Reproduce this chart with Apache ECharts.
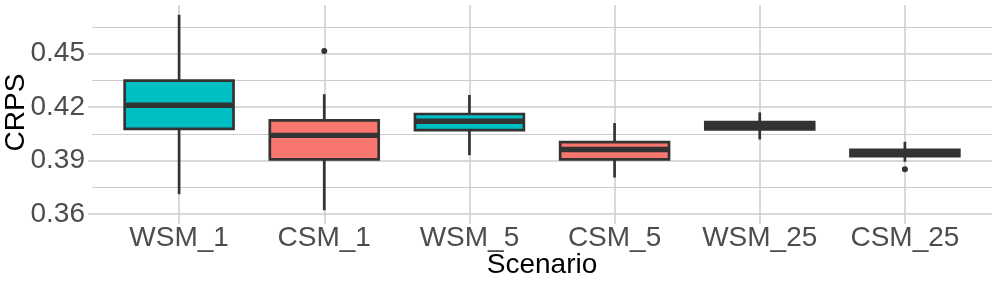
<!DOCTYPE html>
<html>
<head>
<meta charset="utf-8">
<script src="https://cdn.jsdelivr.net/npm/echarts@6/dist/echarts.min.js"></script>
<style>
html,body{margin:0;padding:0;background:#fff;}
#c{width:997px;height:284px;}
</style>
</head>
<body>
<div id="c"></div>
<script>
// ---- data ----
const categories = ['WSM_1', 'CSM_1', 'WSM_5', 'CSM_5', 'WSM_25', 'CSM_25'];
const groups     = ['WSM', 'CSM', 'WSM', 'CSM', 'WSM', 'CSM'];
const whiskerLow = [0.3711, 0.3621, 0.3930, 0.3805, 0.4018, 0.3893];
const q1         = [0.4078, 0.3906, 0.4071, 0.3906, 0.4075, 0.3925];
const median     = [0.4210, 0.4041, 0.4120, 0.3962, 0.4096, 0.3943];
const q3         = [0.4348, 0.4125, 0.4161, 0.4003, 0.4116, 0.3960];
const whiskerHigh= [0.4718, 0.4272, 0.4268, 0.4110, 0.4170, 0.4005];
const outlierCat = ['CSM_1', 'CSM_25'];
const outlierVal = [0.4515, 0.3851];
const yTitle = 'CRPS';
const xTitle = 'Scenario';

// ---- styles ----
const groupColor = { WSM: '#00BFC4', CSM: '#F8766D' };
const lineColor = '#333333';
const gridColor = '#cccccc';
const font = "'Liberation Sans', Arial, sans-serif";

const boxData = categories.map((c, i) => [i + 1, whiskerLow[i], q1[i], median[i], q3[i], whiskerHigh[i], i]);
const outlierData = outlierCat.map((c, k) => [categories.indexOf(c) + 1, outlierVal[k]]);

const allVals = whiskerLow.concat(whiskerHigh, outlierVal);
const dMin = Math.min.apply(null, allVals), dMax = Math.max.apply(null, allVals);
const pad = (dMax - dMin) * 0.05;

function renderBox(params, api) {
  const x = api.value(0);
  const pLo = api.coord([x, api.value(1)]);
  const pQ1 = api.coord([x, api.value(2)]);
  const pMd = api.coord([x, api.value(3)]);
  const pQ3 = api.coord([x, api.value(4)]);
  const pHi = api.coord([x, api.value(5)]);
  const idx = api.value(6);
  const hw = api.size([0.75, 0])[0] / 2;
  const cx = pMd[0];
  const lw = 2.7;
  return {
    type: 'group',
    children: [
      { type: 'line', shape: { x1: cx, y1: pHi[1], x2: cx, y2: pQ3[1] }, style: { stroke: lineColor, lineWidth: lw } },
      { type: 'line', shape: { x1: cx, y1: pQ1[1], x2: cx, y2: pLo[1] }, style: { stroke: lineColor, lineWidth: lw } },
      { type: 'rect', shape: { x: cx - hw, y: pQ3[1], width: hw * 2, height: pQ1[1] - pQ3[1] },
        style: { fill: groupColor[groups[idx]], stroke: lineColor, lineWidth: lw } },
      { type: 'line', shape: { x1: cx - hw, y1: pMd[1], x2: cx + hw, y2: pMd[1] }, style: { stroke: lineColor, lineWidth: 5.4, lineCap: 'butt' } }
    ]
  };
}

const chart = echarts.init(document.getElementById('c'), null, { renderer: 'canvas' });
chart.setOption({
  animation: false,
  backgroundColor: '#ffffff',
  grid: { left: 92, right: 5, top: 5, bottom: 64, containLabel: false, outerBoundsMode: 'none' },
  xAxis: {
    type: 'value',
    min: 0.4, max: categories.length + 0.6,
    minInterval: 1, maxInterval: 1,
    name: xTitle, nameLocation: 'middle', nameGap: 31, nameMoveOverlap: false,
    nameTextStyle: { fontFamily: font, fontSize: 28, color: '#000' },
    axisLine: { show: false },
    axisTick: { show: true, length: 4, lineStyle: { color: gridColor, width: 1.5 } },
    axisLabel: {
      showMinLabel: false, showMaxLabel: false, margin: 4,
      fontFamily: font, fontSize: 28, color: '#4D4D4D',
      formatter: v => categories[Math.round(v) - 1] || ''
    },
    splitLine: { show: true, showMinLine: false, showMaxLine: false, lineStyle: { color: gridColor, width: 1.5 } }
  },
  yAxis: {
    type: 'value',
    min: dMin - pad, max: dMax + pad,
    minInterval: 0.03, maxInterval: 0.03,
    name: yTitle, nameLocation: 'middle', nameGap: 62, nameRotate: 90, nameMoveOverlap: false,
    nameTextStyle: { fontFamily: font, fontSize: 28, color: '#000' },
    axisLine: { show: false },
    axisTick: { show: true, length: 4, lineStyle: { color: gridColor, width: 1.5 } },
    axisLabel: {
      showMinLabel: false, showMaxLabel: false, margin: 7,
      fontFamily: font, fontSize: 28, color: '#4D4D4D',
      formatter: v => v.toFixed(2)
    },
    splitLine: { show: true, showMinLine: false, showMaxLine: false, lineStyle: { color: gridColor, width: 1.5 } },
    minorTick: { show: false, splitNumber: 2 },
    minorSplitLine: { show: true, lineStyle: { color: gridColor, width: 1.1 } }
  },
  series: [
    {
      type: 'custom',
      renderItem: renderBox,
      encode: { x: 0, y: [1, 2, 3, 4, 5] },
      data: boxData,
      z: 3
    },
    {
      type: 'scatter',
      data: outlierData,
      symbol: 'circle', symbolSize: 6,
      itemStyle: { color: lineColor, opacity: 1 },
      z: 4
    }
  ]
});
</script>
</body>
</html>
